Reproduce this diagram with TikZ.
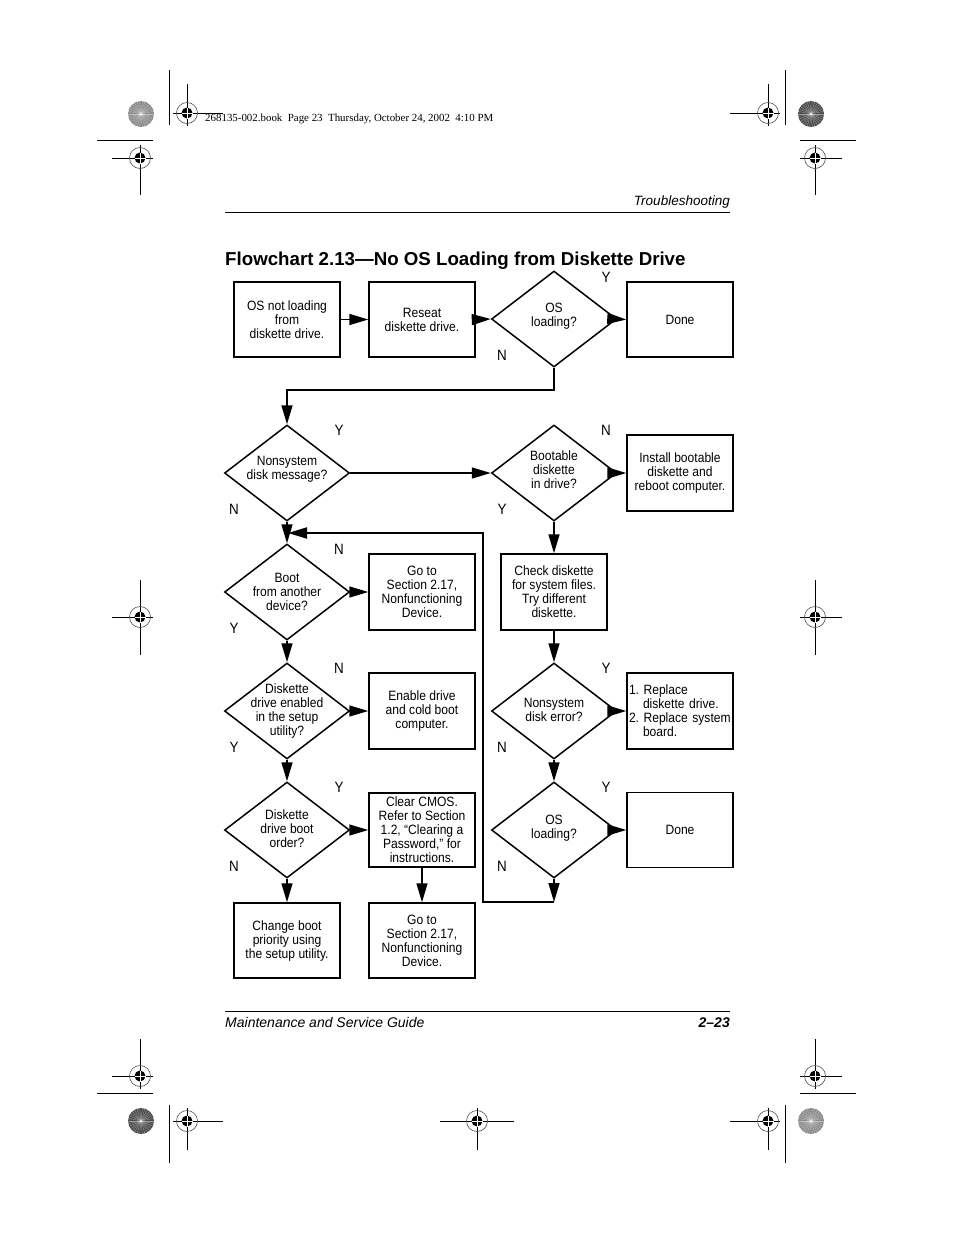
\documentclass[tikz,border=0pt]{standalone}
\usepackage{fontspec}
\setmainfont{Liberation Sans}
\newfontfamily\fc[FakeStretch=0.895]{Liberation Sans}
\newfontfamily\tms{Liberation Serif}
\usetikzlibrary{arrows.meta,shapes.geometric}
\tikzset{
 box/.style={draw, line width=1.5pt, minimum width=106pt, minimum height=75pt, inner sep=0pt, align=center, font=\fc\fontsize{13.5}{14}\selectfont},
 dia/.style={draw, diamond, line width=1.5pt, minimum width=125pt, minimum height=96pt, inner sep=0pt},
 dtxt/.style={align=center, inner sep=0pt, font=\fc\fontsize{13.5}{14}\selectfont},
 yn/.style={inner sep=0pt, font=\fc\fontsize{15}{15}\selectfont},
 arr/.style={line width=1.5pt, -{Triangle[length=19pt,width=11pt]}},
 reg/.style={line width=1pt},
}
\newcommand{\regcross}[6]{%
 \draw[reg] (#3,#2) -- (#4,#2) (#1,#5) -- (#1,#6);
 \draw[line width=0.6pt, black!70] (#1,#2) circle[radius=10.5pt];
 \fill (#1,#2) circle[radius=5.5pt];
 \draw[white, line width=0.7pt] (#1-5.5,#2) -- (#1+5.5,#2) (#1,#2-5.5) -- (#1,#2+5.5);
}
\newcommand{\starb}[3]{%
 \fill[black!#3] (#1,#2) circle[radius=13pt];
 \foreach \a in {0,12,...,348} \draw[white, line width=0.35pt, opacity=0.45] (#1,#2) -- ++(\a:13pt);
}
\begin{document}
\begin{tikzpicture}[x=1pt,y=-1pt]
\path[use as bounding box, fill=white] (0,0) rectangle (954,1235);

% registration marks
\draw[reg] (169,70) -- (169,125);
\starb{141}{114}{45}
\regcross{187}{113}{173}{223}{84}{126}
\draw[reg] (97,140) -- (153,140);
\regcross{140}{158}{112}{153}{145}{195}
\regcross{768}{113}{730}{780}{84}{126}
\draw[reg] (785,70) -- (785,125);
\starb{811}{114}{70}
\draw[reg] (800,140) -- (856,140);
\regcross{815}{158}{800}{842}{145}{195}
\regcross{140}{617}{112}{153}{580}{655}
\regcross{815}{617}{800}{842}{580}{655}
\regcross{140}{1076}{112}{153}{1039}{1089}
\draw[reg] (97,1093) -- (153,1093);
\starb{141}{1121}{70}
\draw[reg] (169,1105) -- (169,1163);
\regcross{187}{1121}{173}{223}{1108}{1150}
\regcross{477}{1121}{440}{514}{1108}{1150}
\regcross{768}{1121}{730}{780}{1108}{1150}
\draw[reg] (785,1105) -- (785,1163);
\starb{811}{1121}{45}
\draw[reg] (800,1093) -- (856,1093);
\regcross{815}{1076}{800}{842}{1039}{1089}

\node[anchor=base west, inner sep=0pt, font=\tms\fontsize{10.9}{12}\selectfont] (book) at (205,121) {268135-002.book\ \ Page 23\ \ Thursday, October 24, 2002\ \ 4:10 PM};

% header / footer
\node[anchor=base east, inner sep=0pt, font=\itshape\fontsize{13.5}{14}\selectfont] (hdr) at (730,205) {Troubleshooting};
\draw[line width=0.8pt] (225,212) -- (730,212);
\node[anchor=base west, inner sep=0pt, font=\bfseries\fontsize{18.7}{20}\selectfont] (title) at (225,265) {Flowchart 2.13—No OS Loading from Diskette Drive};
\draw[line width=0.8pt] (225,1011) -- (730,1011);
\node[anchor=base west, inner sep=0pt, font=\itshape\fontsize{14}{14}\selectfont] (ftl) at (225,1027) {Maintenance and Service Guide};
\node[anchor=base east, inner sep=0pt, font=\bfseries\itshape\fontsize{14}{14}\selectfont] (ftr) at (730,1027) {2–23};

% boxes
\node[box] (A) at (287,319.5) {OS not loading\\from\\diskette drive.};
\node[box] (B) at (422,319.5) {Reseat\\diskette drive.};
\node[box] (D) at (680,319.5) {Done};
\node[box, minimum height=76pt] (G) at (680,473) {Install bootable\\diskette and\\reboot computer.};
\node[box, minimum height=76pt] (I) at (422,592) {Go to\\Section 2.17,\\Nonfunctioning\\Device.};
\node[box, minimum height=76pt] (K) at (422,711) {Enable drive\\and cold boot\\computer.};
\node[box, minimum height=74pt] (M) at (422,830) {Clear CMOS.\\Refer to Section\\1.2, “Clearing a\\Password,” for\\instructions.};
\node[box] (N) at (287,940.5) {Change boot\\priority using\\the setup utility.};
\node[box] (O) at (422,940.5) {Go to\\Section 2.17,\\Nonfunctioning\\Device.};
\node[box, minimum height=76pt] (P) at (554,592) {Check diskette\\for system files.\\Try different\\diskette.};
\node[box, minimum height=76pt, text width=102pt, inner xsep=2pt, align=left] (R) at (680,711) {1.~Replace\\\hspace*{14pt}diskette drive.\\2.~Replace system\\\hspace*{14pt}board.};
\node[box] (T) at (680,830) {Done};

% diamonds
\node[dia] (C) at (554,319) {};
\node[dtxt] (Ct) at (554,316) {OS\\loading?};
\node[dia] (E) at (287,473) {};
\node[dtxt] (Et) at (287,469) {Nonsystem\\disk message?};
\node[dia] (F) at (554,473) {};
\node[dtxt] (Ft) at (554,470) {Bootable\\diskette\\in drive?};
\node[dia] (H) at (287,592) {};
\node[dtxt] (Ht) at (287,592) {Boot\\from another\\device?};
\node[dia] (J) at (287,711) {};
\node[dtxt] (Jt) at (287,711) {Diskette\\drive enabled\\in the setup\\utility?};
\node[dia] (L) at (287,830) {};
\node[dtxt] (Lt) at (287,829) {Diskette\\drive boot\\order?};
\node[dia] (Q) at (554,711) {};
\node[dtxt] (Qt) at (554,710) {Nonsystem\\disk error?};
\node[dia] (S) at (554,830) {};
\node[dtxt] (St) at (554,828) {OS\\loading?};

% Y/N labels
\node[yn] (y1) at (606,277) {Y};
\node[yn] (n1) at (502,355) {N};
\node[yn] (y2) at (339,430) {Y};
\node[yn] (n2) at (234,509) {N};
\node[yn] (n3) at (606,430) {N};
\node[yn] (y3) at (502,509) {Y};
\node[yn] (n4) at (339,549) {N};
\node[yn] (y4) at (234,628) {Y};
\node[yn] (n5) at (339,668) {N};
\node[yn] (y5) at (234,747) {Y};
\node[yn] (y6) at (339,787) {Y};
\node[yn] (n6) at (234,866) {N};
\node[yn] (y7) at (606,668) {Y};
\node[yn] (n7) at (502,747) {N};
\node[yn] (y8) at (606,787) {Y};
\node[yn] (n8) at (502,866) {N};

% connectors
\draw[arr] (A.east) -- (B.west);
\draw[arr] (B.east) -- (C.west);
\draw[arr] (C.east) -- (D.west);
\coordinate (k1) at (554,390);
\draw[arr] (C.south) -- (k1) -| (E.north);
\draw[arr] (E.east) -- (F.west);
\draw[arr] (F.east) -- (G.west);
\draw[arr] (F.south) -- (P.north);
\draw[arr] (P.south) -- (Q.north);
\draw[arr] (Q.east) -- (R.west);
\draw[arr] (Q.south) -- (S.north);
\draw[arr] (S.east) -- (T.west);
\coordinate (k2) at (554,902);
\coordinate (k3) at (483,902);
\coordinate (k4) at (483,533);
\coordinate (k5) at (288,533);
\draw[arr] (S.south) -- (k2);
\draw[arr, line width=2pt, line join=miter] (k2) -- (k3) -- (k4) -- (k5);
\draw[arr] (E.south) -- (H.north);
\draw[arr] (H.east) -- (I.west);
\draw[arr] (H.south) -- (J.north);
\draw[arr] (J.east) -- (K.west);
\draw[arr] (J.south) -- (L.north);
\draw[arr] (L.east) -- (M.west);
\draw[arr] (L.south) -- (N.north);
\draw[arr] (M.south) -- (O.north);
\end{tikzpicture}
\end{document}
